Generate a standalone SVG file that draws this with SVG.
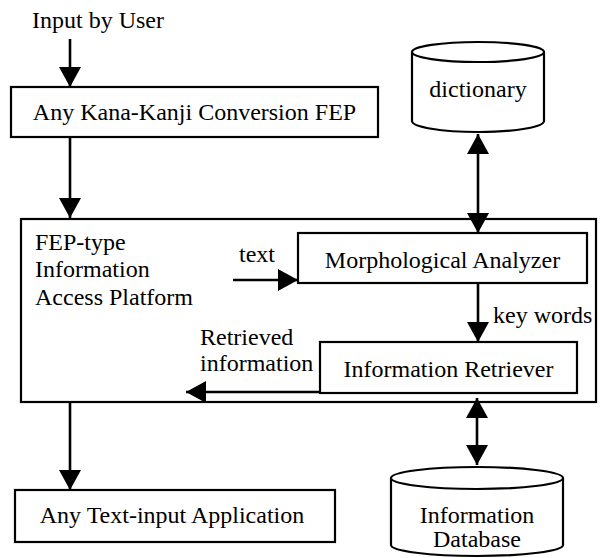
<svg xmlns="http://www.w3.org/2000/svg" width="602" height="558" viewBox="0 0 602 558">
<style>
  text { font-family: "Liberation Serif", "Times New Roman", serif; font-size: 24px; fill: #000; }
  .box { fill: #fff; stroke: #000; stroke-width: 2.2; }
  .cyl { fill: #fff; stroke: #000; stroke-width: 2.2; }
  .edge { fill: none; stroke: #000; stroke-width: 2.6; }
  .mid { text-anchor: middle; }
</style>
<defs>
  <marker id="arr" viewBox="0 0 20 22" refX="20" refY="11" markerWidth="20" markerHeight="22" markerUnits="userSpaceOnUse" orient="auto-start-reverse">
    <path d="M0,0 L20,11 L0,22 z" fill="#000"/>
  </marker>
</defs>

<g id="input-label">
  <text x="32" y="28">Input by User</text>
</g>

<g id="platform">
  <rect class="box" x="21" y="219" width="575" height="183"/>
  <text x="35" y="250">FEP-type</text>
  <text x="35" y="277">Information</text>
  <text x="35" y="305">Access Platform</text>
</g>

<g id="fep">
  <rect class="box" x="11" y="87" width="367" height="50"/>
  <text class="mid" x="194.5" y="120">Any Kana-Kanji Conversion FEP</text>
</g>

<g id="dictionary">
  <path class="cyl" d="M412,52 L412,121 A66,11 0 0,0 544,121 L544,52"/>
  <ellipse class="cyl" cx="478" cy="52" rx="66" ry="10"/>
  <text class="mid" x="478" y="97">dictionary</text>
</g>

<g id="morph">
  <rect class="box" x="298" y="233" width="289" height="50"/>
  <text class="mid" x="442.5" y="268">Morphological Analyzer</text>
</g>

<g id="retriever">
  <rect class="box" x="320" y="342" width="257" height="51"/>
  <text class="mid" x="448.5" y="377">Information Retriever</text>
</g>

<g id="app">
  <rect class="box" x="15" y="490" width="320" height="52"/>
  <text class="mid" x="172" y="523">Any Text-input Application</text>
</g>

<g id="database">
  <path class="cyl" d="M391,478 L391,545 A86,11 0 0,0 563,545 L563,478"/>
  <ellipse class="cyl" cx="477" cy="478" rx="86" ry="11"/>
  <text class="mid" x="477" y="523">Information</text>
  <text class="mid" x="477" y="547">Database</text>
</g>

<g id="connectors">
  <line class="edge" x1="70" y1="39" x2="70" y2="87" marker-end="url(#arr)"/>
  <line class="edge" x1="70" y1="137" x2="70" y2="218" marker-end="url(#arr)"/>
  <line class="edge" x1="478" y1="134" x2="478" y2="233" marker-start="url(#arr)" marker-end="url(#arr)"/>
  <line class="edge" x1="233" y1="280" x2="298" y2="280" marker-end="url(#arr)"/>
  <line class="edge" x1="478" y1="283" x2="478" y2="342" marker-end="url(#arr)"/>
  <line class="edge" x1="320" y1="392" x2="186" y2="392" marker-end="url(#arr)"/>
  <line class="edge" x1="70" y1="402" x2="70" y2="490" marker-end="url(#arr)"/>
  <line class="edge" x1="477" y1="398" x2="477" y2="465" marker-start="url(#arr)" marker-end="url(#arr)"/>
  <text x="239" y="262">text</text>
  <text x="493" y="323">key words</text>
  <text x="200" y="345">Retrieved</text>
  <text x="200" y="371">information</text>
</g>
</svg>
